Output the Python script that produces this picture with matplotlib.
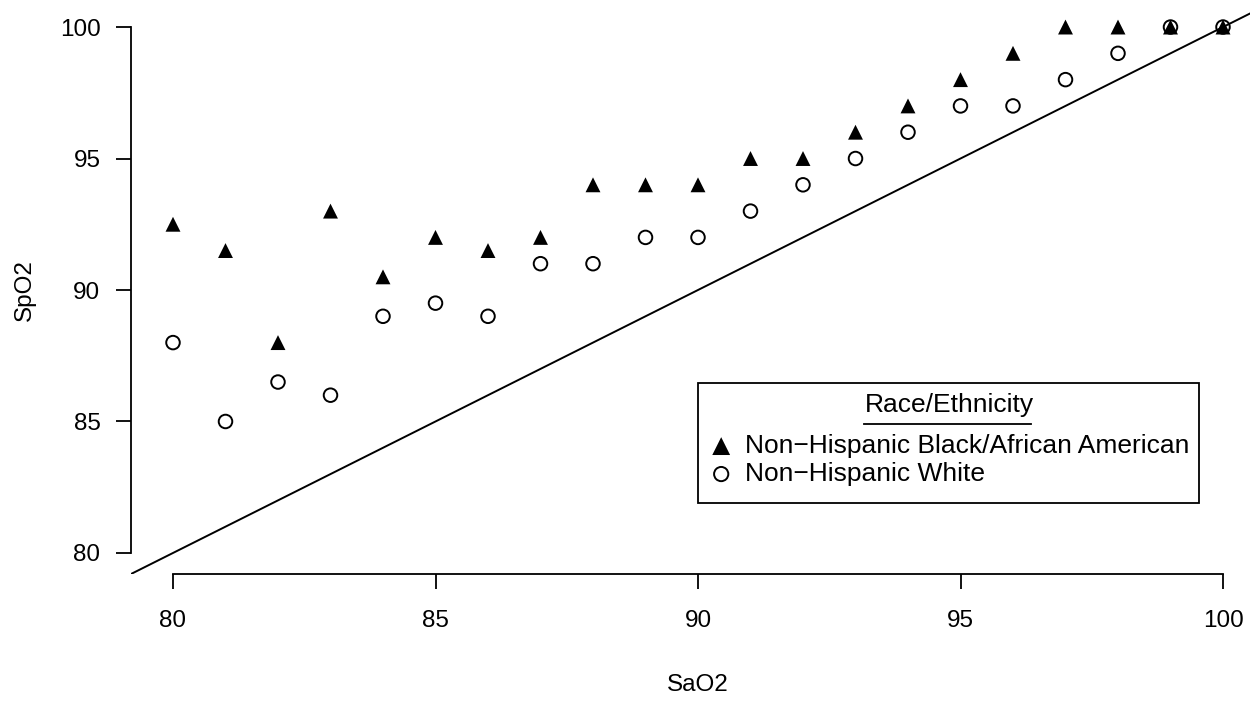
import matplotlib
matplotlib.use("Agg")
import matplotlib.pyplot as plt
from matplotlib.lines import Line2D
from matplotlib.patches import Rectangle

plt.rcParams['font.family'] = ['Liberation Sans', 'DejaVu Sans']

sao2 = [80, 81, 82, 83, 84, 85, 86, 87, 88, 89, 90, 91, 92, 93, 94, 95, 96, 97, 98, 99, 100]
spo2_black = [92.5, 91.5, 88, 93, 90.5, 92, 91.5, 92, 94, 94, 94, 95, 95, 96, 97, 98, 99, 100, 100, 100, 100]
spo2_white = [88, 85, 86.5, 86, 89, 89.5, 89, 91, 91, 92, 92, 93, 94, 95, 96, 97, 97, 98, 99, 100, 100]
ticks = [80, 85, 90, 95, 100]
labels = ["Non\u2212Hispanic Black/African American", "Non\u2212Hispanic White"]
legend_title = "Race/Ethnicity"

W, H = 1250, 710
def fx(px):
    return px / W
def fy(py):
    return 1 - py / H

fig = plt.figure(figsize=(12.5, 7.1), dpi=100)
ax = fig.add_axes([fx(131), fy(574), (1265-131)/W, (574-6)/H])
ax.set_xlim(79.2, 100.8)
ax.set_ylim(79.2, 100.8)

ax.scatter(sao2, spo2_black, marker='^', s=115, c='black', edgecolors='none', label=labels[0], zorder=3)
ax.scatter(sao2, spo2_white, marker='o', s=95, facecolors='none', edgecolors='black', linewidths=1.4, label=labels[1], zorder=4)

ax.axline((80, 80), slope=1, color='black', lw=1.4, zorder=2)

for s in ['top', 'right']:
    ax.spines[s].set_visible(False)
ax.spines['left'].set_bounds(80, 100)
ax.spines['bottom'].set_bounds(80, 100)
for s in ['left', 'bottom']:
    ax.spines[s].set_linewidth(1.3)
ax.set_xticks(ticks)
ax.set_yticks(ticks)
ax.tick_params(axis='both', length=11, width=1.3, labelsize=17.5, colors='black')
ax.tick_params(axis='y', pad=11)
ax.tick_params(axis='x', pad=15)
ax.set_xlabel("SaO2", fontsize=17.5, labelpad=30)
ax.set_ylabel("SpO2", fontsize=17.5, labelpad=17)

# legend box and title
fig.add_artist(Rectangle((fx(698), fy(503)), fx(1199) - fx(698), fy(383) - fy(503),
                         fill=True, facecolor='white', edgecolor='black', lw=1.3,
                         transform=fig.transFigure, zorder=5))
fig.text(fx(949.5), fy(405), legend_title, fontsize=19, ha='center', va='center', zorder=6)
fig.add_artist(Line2D([fx(864), fx(1031)], [fy(424), fy(424)], color='black', lw=1.3,
                      transform=fig.transFigure, zorder=6))

handles, hlabels = ax.get_legend_handles_labels()
leg = fig.legend(handles, hlabels, loc='center left', bbox_to_anchor=(fx(708), fy(460)),
                 bbox_transform=fig.transFigure,
                 fontsize=19, frameon=False, handletextpad=0.42, borderpad=0, handlelength=1.0,
                 labelspacing=0.15, borderaxespad=0)
leg.legend_handles[0].set_sizes([165])
leg.legend_handles[1].set_sizes([105])
leg.set_zorder(7)

fig.savefig("out.png", dpi=100)
